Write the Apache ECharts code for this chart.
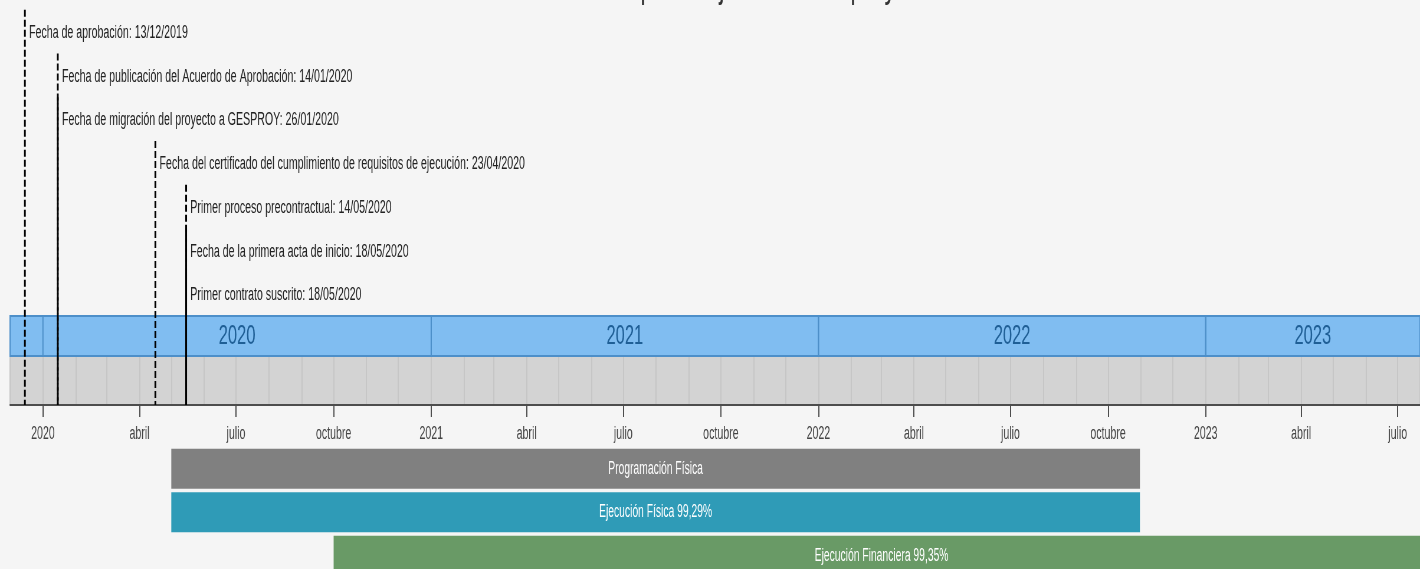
<!DOCTYPE html>
<html lang="es">
<head>
    <meta charset="UTF-8">
    <title>Línea de tiempo</title>
    <script src="https://cdn.jsdelivr.net/npm/echarts@6/dist/echarts.min.js"></script>
    <style>
        html, body { margin: 0; padding: 0; background: #f5f5f5; overflow: hidden; }
        /* el grafico se dibuja ancho y luego se comprime en horizontal */
        #main { width: 2407px; height: 569px; transform: scaleX(0.58994); transform-origin: 0 0; }
    </style>
</head>
<body>
<div id="main"></div>
<script type="text/javascript">
    var eventLabels = [
        'Fecha de aprobación: 13/12/2019',
        'Fecha de publicación del Acuerdo de Aprobación: 14/01/2020',
        'Fecha de migración del proyecto a GESPROY: 26/01/2020',
        'Fecha del certificado del cumplimiento de requisitos de ejecución: 23/04/2020',
        'Primer proceso precontractual: 14/05/2020',
        'Fecha de la primera acta de inicio: 18/05/2020',
        'Primer contrato suscrito: 18/05/2020'
    ];
    // posicion de cada marca tal como se ve en el grafico
    var eventDates = ['2019-12-15', '2020-01-15', '2020-01-15', '2020-04-16', '2020-05-15', '2020-05-15', '2020-05-15'];
    var eventRows = [0, 1, 2, 3, 4, 5, 6];

    var yearLabels = ['2020', '2021', '2022', '2023'];
    var yearStarts = ['2020-01-01', '2021-01-01', '2022-01-01', '2023-01-01'];
    var yearEnds = ['2021-01-01', '2022-01-01', '2023-01-01', '2024-01-01'];

    var monthNames = ['enero', 'febrero', 'marzo', 'abril', 'mayo', 'junio', 'julio',
        'agosto', 'septiembre', 'octubre', 'noviembre', 'diciembre'];

    var barNames = ['Programación Física', 'Ejecución Física 99,29%', 'Ejecución Financiera 99,35%'];
    var barStarts = ['2020-05-01', '2020-05-01', '2020-10-01'];
    var barEnds = ['2022-10-31', '2022-10-31', '2023-07-31'];
    var barColors = ['#808080', '#2f9bb7', '#699a66'];

    var axisMin = '2019-12-01';
    var axisMax = '2023-07-22';
    var DAY = 24 * 3600 * 1000;
    var FONT = '"Liberation Sans", Arial, sans-serif';

    var myChart = echarts.init(document.getElementById('main'));

    function timeAxis(grid, extra) {
        var ax = { type: 'time', gridIndex: grid, min: axisMin, max: axisMax, show: false, position: 'bottom' };
        for (var k in extra) ax[k] = extra[k];
        return ax;
    }

    var eventData = [];
    for (var i = 0; i < eventLabels.length; i++) {
        eventData.push([eventDates[i], eventRows[i], eventLabels[i]]);
    }
    var yearData = [];
    for (var j = 0; j < yearLabels.length; j++) {
        yearData.push([yearStarts[j], yearEnds[j], yearLabels[j]]);
    }
    var barData = [];
    for (var b = 0; b < barNames.length; b++) {
        barData.push([b, barStarts[b], barEnds[b]]);
    }

    var option = {
        backgroundColor: '#f5f5f5',
        animation: false,
        graphic: [{
            type: 'text',
            x: 1219,
            y: -14,
            style: {
                text: 'Línea de tiempo de ejecución del proyecto',
                font: '40px ' + FONT,
                fill: '#333',
                align: 'center',
                verticalAlign: 'middle'
            }
        }],
        grid: [
            { left: 17, right: 0, top: 0, height: 405 },
            { left: 17, right: 0, top: 316, height: 40, show: true, backgroundColor: '#80bdf1', borderColor: '#4d8fc9', borderWidth: 2 },
            { left: 17, right: 0, top: 357, height: 48, show: true, backgroundColor: '#d3d3d3', borderWidth: 0 },
            { left: 17, right: 0, top: 447, bottom: 0 }
        ],
        xAxis: [
            timeAxis(0, {}),
            timeAxis(1, {}),
            // lineas de los meses
            timeAxis(2, {
                show: true,
                splitNumber: 43,
                minInterval: 30 * DAY,
                maxInterval: 30 * DAY,
                axisLine: { show: false },
                axisTick: { show: false },
                axisLabel: { show: false },
                splitLine: { show: true, lineStyle: { color: '#c6c6c6', width: 2 } }
            }),
            // eje principal por trimestres
            timeAxis(2, {
                show: true,
                splitNumber: 14,
                minInterval: 95 * DAY,
                maxInterval: 95 * DAY,
                axisLine: { show: true, lineStyle: { color: '#4d4d4d', width: 2 } },
                axisTick: { show: true, length: 12, lineStyle: { color: '#4d4d4d', width: 2 } },
                splitLine: { show: false },
                axisLabel: {
                    margin: 20,
                    color: '#444',
                    fontFamily: FONT,
                    fontSize: 18,
                    formatter: function (value) {
                        var d = new Date(value);
                        var m = d.getMonth();
                        return m === 0 ? String(d.getFullYear()) : monthNames[m];
                    }
                }
            }),
            timeAxis(3, {})
        ],
        yAxis: [
            { type: 'value', gridIndex: 0, inverse: true, min: -0.755, max: 8.51, show: false },
            { type: 'value', gridIndex: 1, min: 0, max: 1, show: false },
            { type: 'value', gridIndex: 2, show: false },
            // la tercera fila queda cortada por el borde inferior
            { type: 'value', gridIndex: 3, inverse: true, min: -0.5, max: 2.305, show: false }
        ],
        series: [
            {
                type: 'custom',
                name: 'años',
                xAxisIndex: 1,
                yAxisIndex: 1,
                z: 2,
                dimensions: [
                    { name: 'inicio', type: 'time' },
                    { name: 'fin', type: 'time' },
                    { name: 'año', type: 'ordinal' }
                ],
                encode: { x: [0, 1] },
                data: yearData,
                renderItem: function (params, api) {
                    var cs = params.coordSys;
                    var x0 = Math.max(api.coord([api.value(0), 1])[0], cs.x);
                    var x1 = Math.min(api.coord([api.value(1), 1])[0], cs.x + cs.width);
                    var y0 = cs.y;
                    var y1 = cs.y + cs.height;
                    return {
                        type: 'group',
                        children: [{
                            type: 'rect',
                            shape: { x: x0, y: y0, width: x1 - x0, height: y1 - y0 },
                            style: { fill: 'none', stroke: '#4d8fc9', lineWidth: 2 }
                        }, {
                            type: 'text',
                            x: (x0 + x1) / 2,
                            y: (y0 + y1) / 2,
                            style: {
                                text: yearLabels[params.dataIndex],
                                font: '28px ' + FONT,
                                fill: '#1f5f96',
                                align: 'center',
                                verticalAlign: 'middle'
                            }
                        }]
                    };
                }
            },
            {
                type: 'custom',
                name: 'hitos',
                xAxisIndex: 0,
                yAxisIndex: 0,
                z: 10,
                clip: false,
                data: eventData,
                renderItem: function (params, api) {
                    var p = api.coord([api.value(0), api.value(1)]);
                    var top = api.coord([api.value(0), api.value(1) - 0.53])[1];
                    var bottom = params.coordSys.y + params.coordSys.height;
                    return {
                        type: 'group',
                        children: [{
                            type: 'line',
                            shape: { x1: p[0], y1: top, x2: p[0], y2: bottom },
                            style: { stroke: '#000', lineWidth: 3, lineDash: [7, 3] }
                        }, {
                            type: 'text',
                            x: p[0] + 7,
                            y: p[1],
                            style: {
                                text: eventLabels[params.dataIndex],
                                font: '18px ' + FONT,
                                fill: '#222',
                                align: 'left',
                                verticalAlign: 'middle'
                            }
                        }]
                    };
                }
            },
            {
                type: 'custom',
                name: 'ejecucion',
                xAxisIndex: 4,
                yAxisIndex: 3,
                clip: false,
                dimensions: [
                    { name: 'fila', type: 'number' },
                    { name: 'inicio', type: 'time' },
                    { name: 'fin', type: 'time' }
                ],
                encode: { x: [1, 2], y: 0 },
                data: barData,
                renderItem: function (params, api) {
                    var start = api.coord([api.value(1), api.value(0)]);
                    var end = api.coord([api.value(2), api.value(0)]);
                    var h = api.size([0, 1])[1] * 0.92;
                    return {
                        type: 'group',
                        children: [{
                            type: 'rect',
                            shape: { x: start[0], y: start[1] - h / 2, width: end[0] - start[0], height: h },
                            style: { fill: barColors[params.dataIndex] }
                        }, {
                            type: 'text',
                            x: (start[0] + end[0]) / 2,
                            y: start[1],
                            style: {
                                text: barNames[params.dataIndex],
                                font: '17.5px ' + FONT,
                                fill: '#fff',
                                align: 'center',
                                verticalAlign: 'middle'
                            }
                        }]
                    };
                }
            }
        ]
    };

    myChart.setOption(option);
</script>
</body>
</html>
